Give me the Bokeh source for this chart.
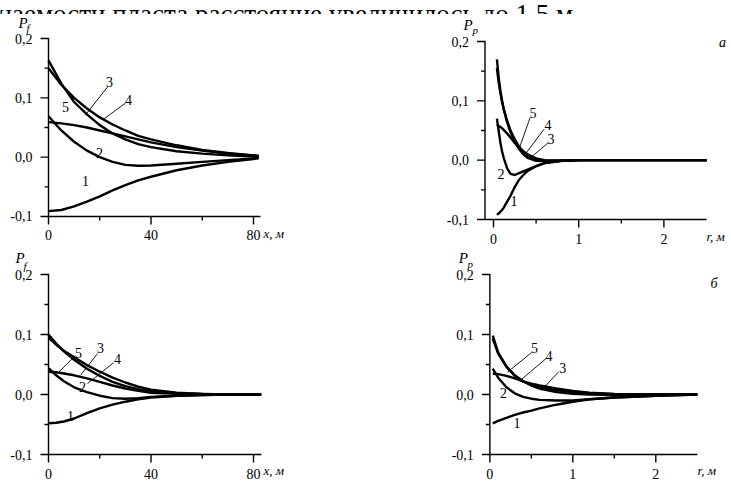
from bokeh.plotting import figure
from bokeh.layouts import column, row
from bokeh.models import FixedTicker, CustomJSTickFormatter, LinearAxis
from bokeh.core.properties import value
from bokeh.embed import file_html
from bokeh.resources import INLINE

FONT = "Liberation Serif"
TOP_TEXT = "цаемости пласта расстояние увеличилось до 1.5 м."
CURVE_NAMES = ["1", "2", "3", "4", "5"]
Y_TICKS = [-0.1, 0.0, 0.1, 0.2]
Y_MINOR = [-0.05, 0.05, 0.15]

# ---------- top-left (a): P_f vs x ----------
X_TL = [0, 5, 10, 15, 20, 25, 30, 35, 40, 50, 60, 70, 80, 82]
TL1 = [-0.091, -0.089, -0.083, -0.075, -0.066, -0.056, -0.047, -0.039, -0.033, -0.022, -0.014, -0.008, -0.003, -0.002]
TL2 = [0.069, 0.045, 0.026, 0.011, 0.0, -0.008, -0.013, -0.0145, -0.014, -0.011, -0.008, -0.005, -0.002, -0.001]
TL3 = [0.163, 0.124, 0.093, 0.072, 0.054, 0.040, 0.030, 0.022, 0.017, 0.010, 0.006, 0.003, 0.001, 0.001]
TL4 = [0.150, 0.122, 0.100, 0.082, 0.067, 0.055, 0.045, 0.036, 0.030, 0.020, 0.012, 0.007, 0.003, 0.002]
TL5 = [0.059, 0.057, 0.054, 0.050, 0.045, 0.040, 0.035, 0.030, 0.025, 0.017, 0.011, 0.006, 0.003, 0.002]
TL_LBL_X = [14.4, 19.9, 23.8, 31.2, 6.6]
TL_LBL_Y = [-0.04, 0.007, 0.126, 0.096, 0.084]
TL_LEAD = [(23.0, 0.118, 14.4, 0.071), (30.0, 0.091, 21.5, 0.064)]

# ---------- top-right (a): P_p vs r ----------
R_TR = [0.04, 0.06, 0.08, 0.1, 0.12, 0.16, 0.2, 0.25, 0.3, 0.35, 0.4, 0.5, 0.6, 0.8, 1.0, 1.5, 2.5]
TR1 = [-0.092, -0.090, -0.087, -0.084, -0.080, -0.070, -0.060, -0.045, -0.033, -0.025, -0.018, -0.010, -0.005, -0.001, 0, 0, 0]
TR2 = [0.070, 0.050, 0.030, 0.015, 0.004, -0.014, -0.023, -0.025, -0.022, -0.019, -0.016, -0.010, -0.005, -0.001, 0, 0, 0]
TR3 = [0.170, 0.140, 0.118, 0.100, 0.086, 0.064, 0.047, 0.031, 0.019, 0.010, 0.004, -0.001, -0.002, -0.001, 0, 0, 0]
TR4 = [0.155, 0.132, 0.114, 0.099, 0.086, 0.066, 0.050, 0.035, 0.023, 0.014, 0.008, 0.001, -0.001, -0.001, 0, 0, 0]
TR5 = [0.060, 0.058, 0.056, 0.054, 0.051, 0.045, 0.038, 0.029, 0.021, 0.015, 0.010, 0.003, 0.0, -0.001, 0, 0, 0]
TR_LBL_X = [0.24, 0.088, 0.674, 0.639, 0.463]
TR_LBL_Y = [-0.069, -0.024, 0.035, 0.059, 0.079]
TR_LEAD = [(0.428, 0.071, 0.299, 0.0185), (0.592, 0.052, 0.381, 0.0118), (0.639, 0.029, 0.428, 0.0034)]

# ---------- bottom-left (б): P_f vs x ----------
X_BL = [0, 3, 6, 10, 15, 20, 25, 30, 35, 40, 50, 60, 70, 83]
BL1 = [-0.048, -0.047, -0.045, -0.040, -0.031, -0.023, -0.017, -0.012, -0.008, -0.005, -0.002, -0.001, 0, 0]
BL2 = [0.044, 0.032, 0.022, 0.012, 0.004, -0.002, -0.006, -0.007, -0.006, -0.004, -0.002, -0.001, 0, 0]
BL3 = [0.100, 0.085, 0.072, 0.058, 0.043, 0.031, 0.021, 0.014, 0.009, 0.005, 0.002, 0.001, 0, 0]
BL4 = [0.095, 0.083, 0.073, 0.062, 0.049, 0.038, 0.028, 0.020, 0.013, 0.008, 0.003, 0.001, 0, 0]
BL5 = [0.038, 0.037, 0.035, 0.032, 0.027, 0.021, 0.015, 0.010, 0.006, 0.003, 0.001, 0, 0, 0]
BL_LBL_X = [8.6, 13.3, 20.3, 26.9, 11.7]
BL_LBL_Y = [-0.035, 0.012, 0.077, 0.060, 0.070]
BL_LEAD = [(10.5, 0.065, 3.5, 0.035), (19.1, 0.068, 12.5, 0.032), (25.4, 0.053, 15.2, 0.018)]

# ---------- bottom-right (б): P_p vs r ----------
R_BR = [0.035, 0.1, 0.2, 0.3, 0.4, 0.5, 0.6, 0.8, 1.0, 1.2, 1.5, 2.0, 2.5]
BR1 = [-0.048, -0.044, -0.039, -0.034, -0.030, -0.027, -0.023, -0.017, -0.012, -0.008, -0.005, -0.002, 0]
BR2 = [0.043, 0.028, 0.012, 0.002, -0.004, -0.007, -0.009, -0.010, -0.010, -0.008, -0.005, -0.002, 0]
BR3 = [0.098, 0.070, 0.047, 0.032, 0.022, 0.015, 0.010, 0.004, 0.001, 0.0, -0.001, 0, 0]
BR4 = [0.093, 0.068, 0.046, 0.031, 0.022, 0.016, 0.012, 0.007, 0.004, 0.002, 0.0005, 0, 0]
BR5 = [0.035, 0.034, 0.031, 0.027, 0.022, 0.018, 0.015, 0.010, 0.006, 0.003, 0.001, 0, 0]
BR_LBL_X = [0.327, 0.164, 0.877, 0.713, 0.538]
BR_LBL_Y = [-0.048, 0.003, 0.045, 0.065, 0.077]
BR_LEAD = [(0.503, 0.070, 0.211, 0.037), (0.678, 0.060, 0.363, 0.023), (0.830, 0.038, 0.620, 0.0067)]

# axis symbols: (text, x, y, font size) in each panel's data space
TL_SYM = [("P", -11.7, 0.2253, "15px"), ("f", -8.6, 0.2169, "11px"), ("x, м", 83.9, -0.1287, "13px")]
TR_SYM = [("P", -0.352, 0.2270, "15px"), ("p", -0.246, 0.2202, "11px"), ("r, м", 2.50, -0.1287, "13px")]
BL_SYM = [("P", -12.9, 0.2283, "15px"), ("f", -9.8, 0.2150, "11px"), ("x, м", 83.9, -0.1267, "13px")]
BR_SYM = [("P", -0.374, 0.2267, "15px"), ("p", -0.269, 0.2167, "11px"), ("r, м", 2.503, -0.1267, "13px")]
TR_CORNER = ("a", 2.688, 0.198)
BR_CORNER = ("б", 2.702, 0.185)

yfmt = "if (Math.abs(tick) < 1e-9) { return '0,0'; } return tick.toFixed(1).replace('.', ',');"

MAJOR_LEN = 8   # px
MINOR_LEN = 4   # px


def label_only_axis(ax):
    # the axis supplies the tick labels; rule and tick marks are drawn as one glyph path
    ax.axis_line_color = None
    ax.major_tick_line_color = None
    ax.minor_tick_line_color = None
    ax.major_tick_out = MAJOR_LEN
    ax.major_tick_in = 0
    ax.minor_tick_out = MINOR_LEN
    ax.minor_tick_in = 0
    ax.major_label_text_font = FONT
    ax.major_label_text_font_size = "14px"
    ax.major_label_text_color = "black"


def axis_path(x_axis_at, y_axis_at, xbounds, xt, xminor, kx, ky):
    """One L-shaped polyline: y-axis (top to bottom) then x-axis, with tick excursions."""
    px, py = [], []
    ymarks = sorted([(t, MAJOR_LEN) for t in Y_TICKS] + [(t, MINOR_LEN) for t in Y_MINOR],
                    reverse=True)
    for t, ln in ymarks:
        px += [y_axis_at, y_axis_at - ln / kx, y_axis_at]
        py += [t, t, t]
    xmarks = sorted([(t, MAJOR_LEN) for t in xt] + [(t, MINOR_LEN) for t in xminor])
    px.append(xbounds[0])
    py.append(x_axis_at)
    for t, ln in xmarks:
        px += [t, t, t]
        py += [x_axis_at, x_axis_at - ln / ky, x_axis_at]
    px.append(xbounds[1])
    py.append(x_axis_at)
    return px, py


def make_panel(width, height, xr, yr, x_axis_at, y_axis_at, xbounds, xt, xminor,
               xs, ys_list, lbl_x, lbl_y, leads, syms, corner):
    p = figure(width=width, height=height, x_range=xr, y_range=yr,
               output_backend="svg", toolbar_location=None,
               x_axis_location=None, y_axis_location=None,
               min_border=0, min_border_left=0, min_border_right=0,
               min_border_top=0, min_border_bottom=0)
    p.outline_line_color = None
    p.grid.visible = False

    xax = LinearAxis(fixed_location=x_axis_at, bounds=xbounds,
                     ticker=FixedTicker(ticks=xt, minor_ticks=xminor))
    label_only_axis(xax)
    xax.major_label_standoff = 6
    p.add_layout(xax, "below")

    yax = LinearAxis(fixed_location=y_axis_at, bounds=(-0.1, 0.2),
                     ticker=FixedTicker(ticks=Y_TICKS, minor_ticks=Y_MINOR),
                     formatter=CustomJSTickFormatter(code=yfmt))
    label_only_axis(yax)
    yax.major_label_standoff = 8
    p.add_layout(yax, "left")

    for ys in ys_list:
        p.line(xs, ys, line_width=2.4, line_color="black")

    p.segment([s[0] for s in leads], [s[1] for s in leads],
              [s[2] for s in leads], [s[3] for s in leads],
              line_width=0.9, line_color="black")

    p.text(x=lbl_x, y=lbl_y, text=CURVE_NAMES, text_font=value(FONT),
           text_font_size="14px", text_align="center", text_baseline="middle",
           text_color="black")
    for t, sx, sy, fs in syms:
        p.text(x=[sx], y=[sy], text=[t], text_font=value(FONT), text_font_style="italic",
               text_font_size=fs, text_align="left", text_baseline="alphabetic",
               text_color="black")
    if corner:
        p.text(x=[corner[1]], y=[corner[2]], text=[corner[0]], text_font=value(FONT),
               text_font_style="italic", text_font_size="14px", text_align="center",
               text_baseline="middle", text_color="black")

    kx = width / (xr[1] - xr[0])
    ky = height / (yr[1] - yr[0])
    ax_x, ax_y = axis_path(x_axis_at, y_axis_at, xbounds, xt, xminor, kx, ky)
    p.line(ax_x, ax_y, line_width=1.4, line_color="black", line_join="miter",
           level="overlay")
    return p


strip = figure(width=731, height=14, x_range=(0, 731), y_range=(0, 14),
               output_backend="svg", toolbar_location=None,
               x_axis_location=None, y_axis_location=None,
               min_border=0, min_border_left=0, min_border_right=0,
               min_border_top=0, min_border_bottom=0)
strip.grid.visible = False
strip.outline_line_color = None
strip.text(x=[-3], y=[1], text=[TOP_TEXT], text_font=value(FONT), text_font_size="27px",
           text_baseline="alphabetic", text_align="left", text_color="black")

# ranges chosen so that each frame fills its panel's canvas
tl = make_panel(370, 233, (-18.73, 125.66), (-0.15225, 0.24045), -0.1, 0.0, (0, 82.7),
                [0, 40, 80], [20, 60], X_TL, [TL1, TL2, TL3, TL4, TL5],
                TL_LBL_X, TL_LBL_Y, TL_LEAD, TL_SYM, None)
tr = make_panel(361, 233, (-1.4437, 2.7934), (-0.14719, 0.24551), -0.1, -0.1, (-0.1, 2.5),
                [0, 1, 2], [0.5, 1.5], R_TR, [TR1, TR2, TR3, TR4, TR5],
                TR_LBL_X, TR_LBL_Y, TR_LEAD, TR_SYM, TR_CORNER)
bl = make_panel(370, 234, (-18.73, 125.66), (-0.145, 0.245), -0.1, 0.0, (0, 83.1),
                [0, 40, 80], [20, 60], X_BL, [BL1, BL2, BL3, BL4, BL5],
                BL_LBL_X, BL_LBL_Y, BL_LEAD, BL_SYM, None)
br = make_panel(361, 234, (-1.4386, 2.9123), (-0.145, 0.245), -0.1, 0.0, (0, 2.5),
                [0, 1, 2], [0.5, 1.5], R_BR, [BR1, BR2, BR3, BR4, BR5],
                BR_LBL_X, BR_LBL_Y, BR_LEAD, BR_SYM, BR_CORNER)

layout = column(strip, row(tl, tr), row(bl, br), width=731, height=481,
                styles={"position": "absolute", "top": "0px", "left": "0px"})

open("out.html", "w").write(file_html(layout, INLINE))
